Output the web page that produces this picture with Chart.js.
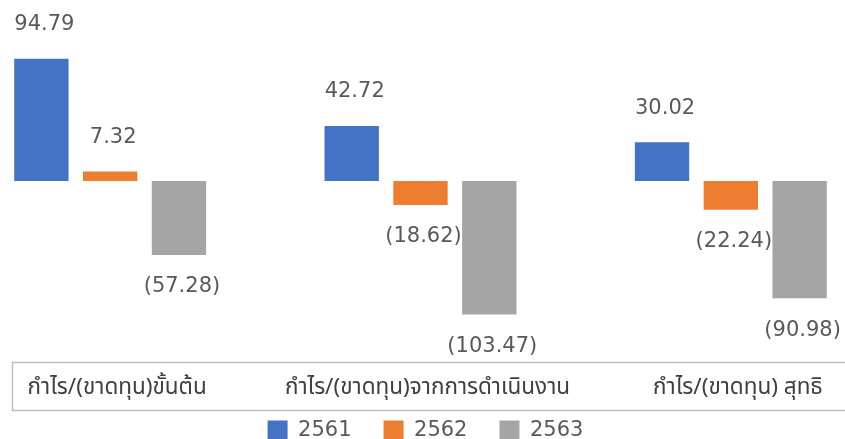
<!DOCTYPE html>
<html>
<head>
<meta charset="utf-8">
<script src="https://cdn.jsdelivr.net/npm/chart.js@4/dist/chart.umd.min.js"></script>
<style>
  html, body { margin: 0; padding: 0; background: #ffffff; overflow: hidden; width: 845px; height: 439px; }
  #wrap { position: absolute; left: -46px; top: 0; width: 946px; height: 450px; }
</style>
</head>
<body>
<div id="wrap"><canvas id="c" width="946" height="450"></canvas></div>
<script>
const categories = ['กำไร/(ขาดทุน)ขั้นต้น', 'กำไร/(ขาดทุน)จากการดำเนินงาน', 'กำไร/(ขาดทุน) สุทธิ'];
const seriesNames = ['2561', '2562', '2563'];
const values2561 = [94.79, 42.72, 30.02];
const values2562 = [7.32, -18.62, -22.24];
const values2563 = [-57.28, -103.47, -90.98];
const seriesColors = ['#4472C4', '#ED7D31', '#A5A5A5'];

const labelFont = '"DejaVu Sans", Verdana, sans-serif';
const thaiFont = 'Tahoma, "Noto Sans Thai", "Noto Sans", "DejaVu Sans", sans-serif';

function fmt(v) {
  return v < 0 ? '(' + Math.abs(v).toFixed(2) + ')' : v.toFixed(2);
}

const valueLabels = {
  id: 'valueLabels',
  afterDatasetsDraw(chart) {
    const ctx = chart.ctx;
    ctx.save();
    ctx.font = '21px ' + labelFont;
    ctx.fillStyle = '#595959';
    ctx.textAlign = 'center';
    ctx.textBaseline = 'middle';
    chart.data.datasets.forEach((ds, di) => {
      const meta = chart.getDatasetMeta(di);
      meta.data.forEach((bar, i) => {
        const v = ds.data[i];
        const y = v >= 0 ? bar.y - 34 : bar.y + 32;
        ctx.fillText(fmt(v), bar.x + 3, y);
      });
    });
    ctx.restore();
  }
};

const tableBox = {
  id: 'tableBox',
  beforeDraw(chart) {
    const ctx = chart.ctx;
    ctx.save();
    ctx.strokeStyle = '#BFBFBF';
    ctx.lineWidth = 1.5;
    ctx.strokeRect(58.5, 362.5, chart.width + 20, 48);
    ctx.restore();
  }
};

// let the category labels extend below the short axis box and nudge the legend
const layoutTweak = {
  id: 'layoutTweak',
  afterLayout(chart) {
    const x = chart.scales.x;
    x.bottom = chart.height;
    const lg = chart.legend;
    lg.left += 5; lg.right += 5;
    lg.top += 1; lg.bottom += 1;
  }
};

new Chart(document.getElementById('c'), {
  type: 'bar',
  data: {
    labels: categories,
    datasets: [
      { label: seriesNames[0], data: values2561, backgroundColor: seriesColors[0] },
      { label: seriesNames[1], data: values2562, backgroundColor: seriesColors[1] },
      { label: seriesNames[2], data: values2563, backgroundColor: seriesColors[2] }
    ]
  },
  options: {
    responsive: false,
    animation: false,
    devicePixelRatio: 1,
    categoryPercentage: 0.665,
    barPercentage: 0.79,
    layout: { padding: { left: 1, right: 14, top: 0, bottom: 0 } },
    scales: {
      x: {
        offset: true,
        grid: { display: false, drawTicks: false },
        border: { display: false },
        ticks: {
          color: '#404040',
          font: { family: thaiFont, size: 22.5 },
          padding: 14,
          labelOffset: 7,
          maxRotation: 0,
          autoSkip: false
        },
        afterFit(scale) { scale.height = 25; }
      },
      y: {
        display: false,
        min: -140.3,
        max: 140.3
      }
    },
    plugins: {
      legend: {
        position: 'bottom',
        labels: {
          boxWidth: 20,
          boxHeight: 20,
          padding: 32,
          color: '#595959',
          font: { family: labelFont, size: 21 }
        }
      },
      tooltip: { enabled: false }
    }
  },
  plugins: [tableBox, layoutTweak, valueLabels]
});
</script>
</body>
</html>
